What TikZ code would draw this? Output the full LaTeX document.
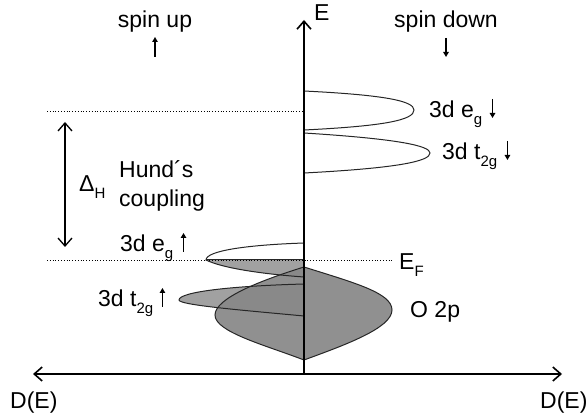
\documentclass[tikz,border=0pt]{standalone}
\usepackage{fontspec}
\setmainfont{Liberation Sans}
\usetikzlibrary{arrows.meta}
\newcommand{\lowsub}[1]{\raisebox{-0.3em}{\fontsize{15}{15}\selectfont #1}}
\begin{document}
\begin{tikzpicture}[x=1pt,y=-1pt,
  lbl/.style={font=\fontsize{23}{27}\selectfont, inner sep=0pt, anchor=base west},
  clbl/.style={lbl, anchor=base},
  axisline/.style={line width=1.6pt},
  dosline/.style={line width=1pt, draw=black!85},
  guide/.style={dotted, line width=0.8pt},
  lobefill/.style={fill=black!37},
  ofill/.style={fill=black!47, fill opacity=0.92},
  spinarrow/.style={line width=1.8pt, -{Triangle[length=5pt,width=5.5pt]}},
  barb/.tip={Straight Barb[length=8pt,width=14pt]}]
\useasboundingbox (0,0) rectangle (587,414);

% coordinates
\coordinate (origin) at (304,374);
\coordinate (top) at (304,20);
\coordinate (left) at (33,374);
\coordinate (right) at (562,374);
\coordinate (d1a) at (47,111);
\coordinate (d1b) at (304,111);
\coordinate (efa) at (47,260);
\coordinate (efb) at (393,260);
\coordinate (dh1) at (65,122);
\coordinate (dh2) at (65,247);

% fills
\fill[lobefill] (304,260) -- (206,260) .. controls (222,268) and (262,274) .. (304,277) -- cycle;
\fill[lobefill] (304,284) .. controls (230,286) and (179,292) .. (179,300)
  .. controls (179,305) and (240,310) .. (304,316) -- cycle;
\fill[ofill] (304,267) .. controls (355,283) and (392,293) .. (392,310)
  .. controls (392,328) and (345,345) .. (304,360)
  .. controls (265,345) and (215,332) .. (215,315)
  .. controls (215,298) and (262,280) .. (304,267) -- cycle;

% guide lines
\draw[guide] (d1a) -- (d1b);
\draw[guide] (efa) -- (efb);

% outlines
\draw[dosline] (304,267) .. controls (355,283) and (392,293) .. (392,310)
  .. controls (392,328) and (345,345) .. (304,360)
  .. controls (265,345) and (215,332) .. (215,315)
  .. controls (215,298) and (262,280) .. (304,267);
\draw[dosline] (304,243) .. controls (245,245) and (206,251) .. (206,260)
  .. controls (222,268) and (262,274) .. (304,277);
\draw[dosline] (206,260) -- (304,260);
\draw[dosline] (304,284) .. controls (230,286) and (179,292) .. (179,300)
  .. controls (179,305) and (240,310) .. (304,316);
\draw[dosline] (304,91) .. controls (385,95) and (414,101) .. (414,110)
  .. controls (414,120) and (385,126) .. (304,130);
\draw[dosline] (304,133) .. controls (400,139) and (430,146) .. (430,153)
  .. controls (430,161) and (400,168) .. (304,173);

% axes
\draw[axisline, barb-barb] (left) -- (right);
\draw[axisline, -barb] (origin) -- (top);
\draw[line width=1.3pt, barb-barb] (dh1) -- (dh2);

% labels
\node[clbl] (spinup) at (155,28) {spin up};
\node[clbl] (spindown) at (446,28) {spin down};
\node[lbl] (elab) at (314,21) {E};
\node[lbl] (egdown) at (429,118) {3d e\lowsub{g}};
\node[lbl] (tdown) at (442,160) {3d t\lowsub{2g}};
\node[lbl] (delta) at (79,192) {Δ\lowsub{H}};
\node[lbl] (hund) at (119,178) {Hund´s};
\node[lbl] (coupling) at (119,207) {coupling};
\node[lbl] (egup) at (120,252) {3d e\lowsub{g}};
\node[lbl] (ef) at (399,270) {E\lowsub{F}};
\node[lbl] (tup) at (98,307) {3d t\lowsub{2g}};
\node[lbl] (o2p) at (410,318) {O 2p};
\node[lbl] (dl) at (10,409) {D(E)};
\node[lbl] (dr) at (540,409) {D(E)};

% spin arrows
\coordinate (su1) at (155,57);
\coordinate (su2) at (155,37);
\coordinate (sd1) at (446,38);
\coordinate (sd2) at (446,57);
\draw[spinarrow] (su1) -- (su2);
\draw[spinarrow] (sd1) -- (sd2);
\draw[spinarrow] ([xshift=10pt,yshift=19pt]egdown.base east) -- ([xshift=10pt]egdown.base east);
\draw[spinarrow] ([xshift=10pt,yshift=19pt]tdown.base east) -- ([xshift=10pt]tdown.base east);
\draw[spinarrow] ([xshift=10pt]egup.base east) -- ([xshift=10pt,yshift=19pt]egup.base east);
\draw[spinarrow] ([xshift=9pt]tup.base east) -- ([xshift=9pt,yshift=19pt]tup.base east);
\end{tikzpicture}
\end{document}
